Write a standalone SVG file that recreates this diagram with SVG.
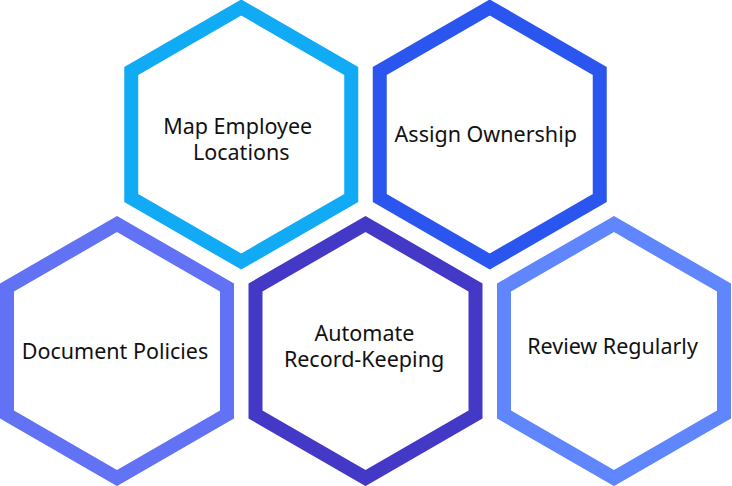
<svg xmlns="http://www.w3.org/2000/svg" width="732" height="486" viewBox="0 0 732 486">
  <defs>
    <polygon id="hex" points="0,-127 110,-63.5 110,63.5 0,127 -110,63.5 -110,-63.5"/>
    <style>
      .hex { fill: #ffffff; stroke-width: 14; stroke-linejoin: miter; }
      .lbl { font-family: "Noto Sans", "Open Sans", sans-serif; font-size: 21.5px; fill: #111111; text-anchor: middle; }
    </style>
  </defs>
  <rect width="732" height="486" fill="#ffffff"/>
  <g id="connectors"></g>
  <g id="node-map-employee-locations" transform="translate(241.25,134.5)">
    <use href="#hex" class="hex" stroke="#10AAF5"/>
    <text class="lbl" x="-3.5" y="-0.5">Map Employee</text>
    <text class="lbl" x="0" y="25.5">Locations</text>
  </g>
  <g id="node-assign-ownership" transform="translate(489.75,134.5)">
    <use href="#hex" class="hex" stroke="#2B55EF"/>
    <text class="lbl" x="-4" y="7">Assign Ownership</text>
  </g>
  <g id="node-document-policies" transform="translate(117,351)">
    <use href="#hex" class="hex" stroke="#6272F5"/>
    <text class="lbl" x="-2" y="8">Document Policies</text>
  </g>
  <g id="node-automate-record-keeping" transform="translate(365.5,351)">
    <use href="#hex" class="hex" stroke="#4339C6"/>
    <text class="lbl" x="-1" y="-10.5">Automate</text>
    <text class="lbl" x="-1.5" y="15.5">Record-Keeping</text>
  </g>
  <g id="node-review-regularly" transform="translate(614,351)">
    <use href="#hex" class="hex" stroke="#5F86FC"/>
    <text class="lbl" x="-1.5" y="3">Review Regularly</text>
  </g>
</svg>
